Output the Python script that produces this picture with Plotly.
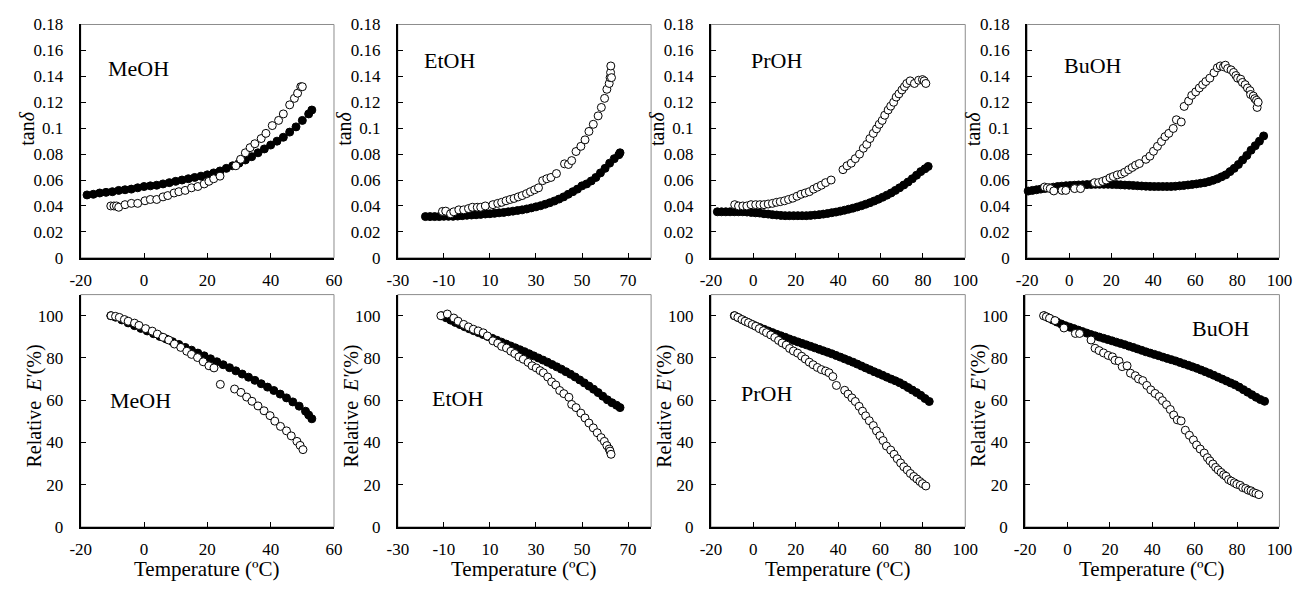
import plotly.graph_objects as go

W, H = 1315, 596
FONT = "Liberation Serif"

# ---------------- MeOH ----------------
meoh_tan_open_x = [-10.5, -9.5, -8.7, -8, -6, -4, -2, 0.3, 2, 4, 6, 7.5, 9.5, 11, 13, 15, 17, 19, 20.5, 22, 24,
                   29, 30.5, 32, 33.5, 35, 37, 38.5, 40.5, 42.5, 44, 46, 47.5, 48.5, 49.5, 50]
meoh_tan_open_y = [0.040, 0.040, 0.040, 0.039, 0.041, 0.042, 0.042, 0.044, 0.045, 0.045, 0.047, 0.048, 0.050,
                   0.051, 0.052, 0.054, 0.055, 0.057, 0.059, 0.061, 0.063, 0.071, 0.076, 0.081, 0.085, 0.088,
                   0.092, 0.096, 0.102, 0.106, 0.111, 0.118, 0.123, 0.127, 0.132, 0.132]
meoh_tan_fill_x = [-18, -16, -14, -12, -10, -8, -6, -4, -2, 0, 2, 4, 6, 8, 10, 12, 14, 16, 18, 20, 22, 24, 26,
                   28, 30, 32, 34, 36, 38, 40, 42, 44, 46, 48, 50, 52, 53]
meoh_tan_fill_y = [0.0485, 0.049, 0.050, 0.0505, 0.051, 0.052, 0.0525, 0.053, 0.054, 0.055, 0.0555, 0.056,
                   0.057, 0.058, 0.059, 0.060, 0.061, 0.062, 0.063, 0.064, 0.0655, 0.067, 0.069, 0.071, 0.073,
                   0.0755, 0.078, 0.081, 0.084, 0.087, 0.090, 0.093, 0.097, 0.101, 0.106, 0.111, 0.114]
meoh_e_open_x = [-10.4, -9, -7.8, -6.2, -5, -3, -1.6, 0.5, 2.6, 4.2, 6, 7.8, 9.6, 11.6, 13.5, 15, 16.9, 18.7,
                 20.5, 22.1, 24.1, 28.6, 30.6, 32.4, 34.1, 36, 37.9, 39.8, 41.3, 43.1, 45, 46.5, 48.3, 49.3, 50.2]
meoh_e_open_y = [100, 99.7, 99.2, 98.2, 97.4, 96.5, 95.4, 93.9, 92.7, 91.3, 89.8, 88.5, 86.6, 85, 83.2, 81.7,
                 80.2, 78.2, 76.3, 75.3, 67.5, 65.3, 63.7, 61.5, 59.5, 57.3, 55, 52.7, 50.1, 47.6, 45.5, 43.1,
                 40.5, 38.6, 36.6]
meoh_e_fill_x = [-10.5, -9, -7, -5, -3, -1, 1, 3, 5, 7, 9, 11, 13, 15, 17, 19, 21, 23, 25, 27, 29, 31, 33, 35,
                 37, 39, 41, 43, 45, 47, 49, 51, 52, 53]
meoh_e_fill_y = [100, 99.3, 98, 96.6, 95.3, 94, 92.8, 91.5, 90.2, 89, 87.7, 86.4, 85, 83.7, 82.3, 81, 79.6,
                 78.2, 76.8, 75.4, 73.9, 72.4, 70.9, 69.4, 67.8, 66.2, 64.6, 62.9, 61.1, 59.2, 57.2, 54.8, 53,
                 51.2]

# ---------------- EtOH ----------------
etoh_tan_open_x = [-10.6, -9.2, -7.1, -5.7, -3.5, -1.4, 0.7, 2.4, 4.5, 6, 8, 11.3, 13.4, 15.1, 17, 18.8, 20.5,
                   22.3, 24, 25.9, 27.6, 29.4, 31.1, 32.9, 34.7, 36.5, 38.9, 42.4, 44.1, 45.5, 47.4, 49.5, 51.3,
                   53, 54.9, 57, 58.4, 59.8, 60.8, 61.8, 62.2, 62.4, 62.5, 62.8]
etoh_tan_open_y = [0.0358, 0.036, 0.034, 0.0355, 0.037, 0.037, 0.038, 0.039, 0.039, 0.039, 0.040, 0.041, 0.042,
                   0.0428, 0.044, 0.045, 0.0458, 0.047, 0.048, 0.0495, 0.051, 0.0525, 0.054, 0.0595, 0.061,
                   0.062, 0.065, 0.0725, 0.072, 0.075, 0.082, 0.086, 0.091, 0.0975, 0.103, 0.1095, 0.116, 0.123,
                   0.130, 0.1345, 0.139, 0.143, 0.148, 0.139]
etoh_tan_fill_x = [-18, -16, -14, -12, -10, -8, -6, -4, -2, 0, 2, 4, 6, 8, 10, 12, 14, 16, 18, 20, 22, 24, 26,
                   28, 30, 32, 34, 36, 38, 40, 42, 44, 46, 48, 50, 52, 54, 56, 58, 60, 62, 64, 66, 66.5]
etoh_tan_fill_y = [0.0318, 0.0318, 0.0318, 0.0318, 0.032, 0.032, 0.032, 0.0322, 0.0325, 0.0328, 0.033, 0.0332,
                   0.0335, 0.0338, 0.034, 0.0343, 0.0347, 0.035, 0.0355, 0.036, 0.0365, 0.037, 0.0377, 0.0385,
                   0.0393, 0.0402, 0.0413, 0.0425, 0.0438, 0.0453, 0.047, 0.049, 0.051, 0.053, 0.0555, 0.057,
                   0.0593, 0.062, 0.0655, 0.069, 0.073, 0.0765, 0.0795, 0.081]
etoh_e_open_x = [-11.3, -8.5, -5.7, -3.8, -1.4, 0.7, 2.8, 4.9, 7.1, 8.9, 11.3, 13.4, 15.1, 17.2, 19.1, 20.8,
                 22.6, 24.5, 26.6, 28.3, 30.1, 31.8, 33.2, 35.1, 36.8, 38.6, 40.3, 42.1, 44.3, 45.5, 47.4, 49.5,
                 51.3, 53, 54.9, 56.6, 58.3, 59.7, 60.8, 61.8, 62.2, 62.6]
etoh_e_open_y = [100, 100.8, 98.9, 97.4, 95.9, 94.7, 93.6, 92.8, 91.9, 90.4, 88.1, 87, 85.5, 84.7, 83.2, 82.1,
                 80.5, 79.4, 77.9, 76.3, 75.3, 74, 73, 71, 68.7, 67.2, 64.6, 63.1, 61.4, 58, 56.5, 53.9, 51.6,
                 49.2, 46.9, 44.6, 42.3, 40.5, 38.5, 36.9, 35.9, 34.4]
etoh_e_fill_x = [-11, -9, -7, -5, -3, -1, 1, 3, 5, 7, 9, 11, 13, 15, 17, 19, 21, 23, 25, 27, 29, 31, 33, 35, 37,
                 39, 41, 43, 45, 47, 49, 51, 53, 55, 57, 59, 61, 63, 65, 66.5]
etoh_e_fill_y = [100, 99, 97.9, 96.8, 95.8, 94.8, 93.8, 92.9, 92, 91.1, 90.2, 89.3, 88.4, 87.5, 86.6, 85.7,
                 84.8, 83.9, 83, 82, 81, 80, 79, 78, 76.9, 75.8, 74.7, 73.5, 72.3, 71, 69.6, 68.2, 66.7, 65.2,
                 63.6, 61.9, 60.2, 58.8, 57.6, 56.5]

# ---------------- PrOH ----------------
proh_tan_open_x = [-8.8, -7, -5, -3.1, -1.1, 1.1, 3.1, 5, 7, 9, 10.9, 12.7, 14.7, 16.6, 18.6, 20.6, 22.5, 24.5,
                   26.4, 28.4, 30.2, 32.1, 34.1, 36.7, 42.3, 44.2, 46.2, 48.1, 50.1, 51.9, 53.5, 55, 56.6, 58.1,
                   59.4, 60.8, 62, 63.6, 64.8, 66.2, 67.4, 68.7, 70.1, 71.3, 72.4, 74, 76, 78, 79.8, 80.6, 81.4]
proh_tan_open_y = [0.041, 0.040, 0.040, 0.040, 0.041, 0.041, 0.041, 0.041, 0.0415, 0.042, 0.0428, 0.0433,
                   0.044, 0.045, 0.046, 0.0475, 0.049, 0.050, 0.051, 0.053, 0.0545, 0.056, 0.058, 0.060, 0.068,
                   0.071, 0.073, 0.0765, 0.080, 0.0845, 0.0875, 0.092, 0.096, 0.0995, 0.103, 0.106, 0.110,
                   0.114, 0.117, 0.120, 0.124, 0.1265, 0.1295, 0.132, 0.1345, 0.1365, 0.1345, 0.137, 0.1375,
                   0.1365, 0.1345]
proh_tan_fill_x = [-17, -15, -13, -11, -9, -7, -5, -3, -1, 1, 3, 5, 7, 9, 11, 13, 15, 17, 19, 21, 23, 25, 27,
                   29, 31, 33, 35, 37, 39, 41, 43, 45, 47, 49, 51, 53, 55, 57, 59, 61, 63, 65, 67, 69, 71, 73,
                   75, 77, 79, 81, 82.5]
proh_tan_fill_y = [0.0355, 0.0355, 0.0355, 0.0355, 0.0355, 0.0355, 0.0355, 0.0353, 0.035, 0.0347, 0.0345,
                   0.034, 0.0337, 0.0333, 0.033, 0.0327, 0.0325, 0.0325, 0.0325, 0.0325, 0.0325, 0.0325, 0.0327,
                   0.033, 0.0333, 0.0337, 0.0342, 0.0348, 0.0353, 0.036, 0.0367, 0.0375, 0.0383, 0.0392, 0.0402,
                   0.0413, 0.0425, 0.0438, 0.0452, 0.0467, 0.0483, 0.050, 0.052, 0.054, 0.0562, 0.0585, 0.061,
                   0.0637, 0.0665, 0.0687, 0.0705]
proh_e_open_x = [-8.8, -7.3, -5.4, -3.9, -2.3, -0.5, 1.1, 2.8, 4.7, 6.2, 8.2, 10.1, 11.9, 13.6, 15.5, 17.1,
                 18.9, 20.9, 22.8, 24.5, 26.4, 28.2, 30.2, 32.1, 34.1, 35.7, 37.5, 39.2, 43.1, 44.7, 46.5, 48.1,
                 49.9, 51.5, 53, 54.7, 56.6, 58.1, 59.7, 61.2, 62.8, 64.8, 66.4, 67.9, 69.5, 71, 72.6, 74.1,
                 75.7, 77.2, 78.6, 79.8, 81.4]
proh_e_open_y = [100, 99.2, 98.2, 97.4, 96.7, 95.8, 95, 93.9, 92.9, 92, 90.9, 89.7, 88.3, 87.1, 86.1, 84.5,
                 83.3, 82.3, 80.8, 79.5, 78, 76.8, 75.5, 74.5, 73.8, 73, 71.2, 67, 64.7, 62.9, 61.1, 59.4, 57.1,
                 54.8, 52.6, 50.3, 48, 45.5, 43.2, 40.9, 38.3, 36.4, 34.4, 32.3, 30.3, 28.5, 27, 25.3, 23.9,
                 22.7, 21.5, 20.5, 19.4]
proh_e_fill_x = [-9, -7, -5, -3, -1, 1, 3, 5, 7, 9, 11, 13, 15, 17, 19, 21, 23, 25, 27, 29, 31, 33, 35, 37, 39,
                 41, 43, 45, 47, 49, 51, 53, 55, 57, 59, 61, 63, 65, 67, 69, 71, 73, 75, 77, 79, 81, 83]
proh_e_fill_y = [100, 99, 98, 97, 96.1, 95.2, 94.4, 93.6, 92.8, 92, 91.2, 90.5, 89.8, 89, 88.3, 87.6, 86.9,
                 86.2, 85.5, 84.8, 84.1, 83.4, 82.7, 82, 81.2, 80.4, 79.6, 78.8, 78, 77.1, 76.2, 75.3, 74.4,
                 73.5, 72.7, 71.8, 70.9, 70, 69.2, 68.3, 67.2, 66, 64.8, 63.6, 62.3, 60.8, 59.4]

# ---------------- BuOH ----------------
buoh_tan_open_x = [-11.7, -10.4, -9, -7.3, -3.4, -1.6, 2.6, 5.4, 12.1, 14, 15.9, 17.6, 19.4, 21, 22.9, 24.9,
                   26.4, 28.3, 30, 31.6, 33.4, 36.5, 38.4, 40.1, 42, 43.9, 45.6, 47.4, 49.5, 51, 53.3, 54.7,
                   56.8, 58.3, 60.2, 61.9, 63.5, 65, 66.9, 68.9, 70.5, 71.9, 73.4, 74.3, 75.4, 77, 78.2, 79.3,
                   80.1, 81.6, 82.4, 83.7, 84.8, 86, 86.3, 87.6, 88.3, 89.1, 89.4, 89.9]
buoh_tan_open_y = [0.0546, 0.054, 0.0534, 0.0516, 0.052, 0.052, 0.0534, 0.0534, 0.058, 0.058, 0.059, 0.060,
                   0.0617, 0.0627, 0.064, 0.0647, 0.066, 0.068, 0.0697, 0.0714, 0.0727, 0.076, 0.0784, 0.0822,
                   0.086, 0.0897, 0.0935, 0.096, 0.0998, 0.1065, 0.1048, 0.1168, 0.121, 0.1253, 0.128, 0.131,
                   0.1336, 0.136, 0.1386, 0.1428, 0.1466, 0.148, 0.1474, 0.1486, 0.146, 0.145, 0.143, 0.1406,
                   0.1386, 0.1378, 0.1353, 0.1336, 0.131, 0.129, 0.126, 0.1248, 0.1228, 0.1215, 0.116, 0.120]
buoh_tan_fill_x = [-19.5, -17.5, -15.5, -13.5, -11.5, -9.5, -7.5, -5.5, -3.5, -1.5, 0.5, 2.5, 4.5, 6.5, 8.5,
                   10.5, 12.5, 14.5, 16.5, 18.5, 20.5, 22.5, 24.5, 26.5, 28.5, 30.5, 32.5, 34.5, 36.5, 38.5,
                   40.5, 42.5, 44.5, 46.5, 48.5, 50.5, 52.5, 54.5, 56.5, 58.5, 60.5, 62.5, 64.5, 66.5, 68.5,
                   70.5, 72.5, 74.5, 76.5, 78.5, 80.5, 82.5, 84.5, 86.5, 88.5, 90.5, 92.5]
buoh_tan_fill_y = [0.0515, 0.052, 0.0525, 0.053, 0.0535, 0.054, 0.0545, 0.055, 0.0553, 0.0556, 0.0558, 0.056,
                   0.0562, 0.0563, 0.0565, 0.0566, 0.0567, 0.0567, 0.0567, 0.0567, 0.0566, 0.0565, 0.0563,
                   0.0561, 0.056, 0.0558, 0.0556, 0.0554, 0.0552, 0.0551, 0.055, 0.055, 0.055, 0.055, 0.055,
                   0.0552, 0.0555, 0.0558, 0.0562, 0.0566, 0.057, 0.0575, 0.058, 0.0588, 0.0598, 0.061, 0.0625,
                   0.064, 0.0665, 0.069, 0.072, 0.0755, 0.079, 0.083, 0.0865, 0.090, 0.094]
buoh_e_open_x = [-11.3, -10, -8.5, -5.9, -1.7, 3.7, 5.7, 11.1, 13, 14.9, 17, 19.2, 21.2, 22.4, 24.3, 25.8,
                 28.1, 29.7, 32, 33.5, 35.5, 37.4, 39.3, 41.3, 43.3, 44.8, 46.7, 48.5, 50.1, 51.8, 53.6, 55.6,
                 57.5, 59.4, 60.9, 62.6, 64.5, 66, 67.2, 68.6, 69.9, 71.1, 72.5, 73.7, 74.8, 76, 77.3, 78.7,
                 79.9, 81.5, 82.7, 84.1, 85.3, 86.6, 87.7, 88.9, 90.3]
buoh_e_open_y = [100, 99.5, 98.8, 97.7, 94.2, 91.6, 91.6, 88.5, 84.6, 83.5, 82.4, 81.2, 80.5, 78.9, 78.5,
                 75.9, 76.3, 72.8, 71.6, 70.1, 69.3, 67, 64.9, 63.2, 61.7, 59.8, 57.9, 55.6, 53, 50.7, 50.2,
                 45.8, 43.4, 41.2, 38.8, 36.9, 35, 32.8, 31.3, 29.8, 28.2, 27, 25.8, 24.7, 24, 22.4, 21.7,
                 20.9, 20.2, 19.7, 18.6, 18.2, 17.4, 17.1, 16.3, 15.9, 15.3]
buoh_e_fill_x = [-11, -9, -7, -5, -3, -1, 1, 3, 5, 7, 9, 11, 13, 15, 17, 19, 21, 23, 25, 27, 29, 31, 33, 35,
                 37, 39, 41, 43, 45, 47, 49, 51, 53, 55, 57, 59, 61, 63, 65, 67, 69, 71, 73, 75, 77, 79, 81,
                 83, 85, 87, 89, 91, 93]
buoh_e_fill_y = [100, 99, 98, 97, 96.1, 95.3, 94.6, 93.9, 93.2, 92.5, 91.8, 91.1, 90.5, 89.9, 89.3, 88.7,
                 88.1, 87.5, 86.9, 86.3, 85.6, 85, 84.3, 83.6, 82.9, 82.3, 81.7, 81.1, 80.4, 79.8, 79.2, 78.6,
                 77.9, 77.2, 76.5, 75.8, 75.1, 74.3, 73.5, 72.7, 71.8, 70.9, 70, 69.1, 68.2, 67.3, 66.2, 65,
                 63.8, 62.6, 61.4, 60.3, 59.5]

# ---------------- labels / ticks ----------------
solvents = ["MeOH", "EtOH", "PrOH", "BuOH"]
tan_ticks = [0, 0.02, 0.04, 0.06, 0.08, 0.1, 0.12, 0.14, 0.16, 0.18]
tan_ticktext = ["0", "0.02", "0.04", "0.06", "0.08", "0.1", "0.12", "0.14", "0.16", "0.18"]
e_ticks = [0, 20, 40, 60, 80, 100]
e_ticktext = ["0", "20", "40", "60", "80", "100"]
x_ticks_a = [-20, 0, 20, 40, 60]
x_ticks_b = [-30, -10, 10, 30, 50, 70]
x_ticks_c = [-20, 0, 20, 40, 60, 80, 100]
x_ticks_list = [x_ticks_a, x_ticks_b, x_ticks_c, x_ticks_c]
x_ranges = [[-20, 60], [-30, 80], [-20, 100], [-20, 100]]
y_title_tan = "tan<i>δ</i>"
y_title_e = "Relative  <i>E'</i>(%)"
x_title = "Temperature (ºC)"

top_series = [
    (meoh_tan_fill_x, meoh_tan_fill_y, meoh_tan_open_x, meoh_tan_open_y),
    (etoh_tan_fill_x, etoh_tan_fill_y, etoh_tan_open_x, etoh_tan_open_y),
    (proh_tan_fill_x, proh_tan_fill_y, proh_tan_open_x, proh_tan_open_y),
    (buoh_tan_fill_x, buoh_tan_fill_y, buoh_tan_open_x, buoh_tan_open_y),
]
bot_series = [
    (meoh_e_fill_x, meoh_e_fill_y, meoh_e_open_x, meoh_e_open_y),
    (etoh_e_fill_x, etoh_e_fill_y, etoh_e_open_x, etoh_e_open_y),
    (proh_e_fill_x, proh_e_fill_y, proh_e_open_x, proh_e_open_y),
    (buoh_e_fill_x, buoh_e_fill_y, buoh_e_open_x, buoh_e_open_y),
]

# ---------------- layout geometry (pixels) ----------------
top_x_px = [(71, 329), (394, 652), (713, 972), (1035, 1292)]
bot_x_px = [(71, 329), (394, 652), (713, 972), (1033, 1292)]
top_y_px = (16, 257)
bot_y_px = (295, 535)
top_label_px = [(130, 61), (447, 53), (780, 53), (1102, 58)]
bot_label_px = [(132, 404), (455, 402), (770, 397), (1232, 330)]


def px(x):
    return x / W


def py(y):
    return 1 - y / H


fig = go.Figure()
layout = dict(
    width=W, height=H, autosize=False,
    margin=dict(l=0, r=0, t=0, b=0, pad=0),
    paper_bgcolor="white", plot_bgcolor="white",
    font=dict(family=FONT, color="black", size=17),
    showlegend=False,
)
annotations = []
shapes = []

marker_fill = dict(symbol="circle", size=8, color="black", line=dict(color="black", width=1))
marker_open = dict(symbol="circle", size=8, color="white", line=dict(color="black", width=1))

for row in range(2):
    for col in range(4):
        idx = row * 4 + col + 1
        xa = "x" if idx == 1 else f"x{idx}"
        ya = "y" if idx == 1 else f"y{idx}"
        xkey = "xaxis" if idx == 1 else f"xaxis{idx}"
        ykey = "yaxis" if idx == 1 else f"yaxis{idx}"
        xpx = (top_x_px if row == 0 else bot_x_px)[col]
        ypx = top_y_px if row == 0 else bot_y_px
        fx, fy, ox, oy = (top_series if row == 0 else bot_series)[col]
        fig.add_trace(go.Scatter(x=fx, y=fy, mode="markers", marker=marker_fill, xaxis=xa, yaxis=ya,
                                 cliponaxis=False))
        fig.add_trace(go.Scatter(x=ox, y=oy, mode="markers", marker=marker_open, xaxis=xa, yaxis=ya,
                                 cliponaxis=False))
        xt = x_ticks_list[col]
        layout[xkey] = dict(
            domain=[px(xpx[0]), px(xpx[1])], anchor=ya, range=x_ranges[col],
            tickmode="array", tickvals=xt, ticktext=[str(v) for v in xt],
            ticks="inside", ticklen=5, tickwidth=1, tickcolor="black",
            showline=True, linecolor="black", linewidth=2, showgrid=False, zeroline=False,
            tickfont=dict(family=FONT, size=17, color="black"), ticklabelstandoff=6,
            fixedrange=True,
        )
        if row == 0:
            yr, yt, ytt = [0, 0.18], tan_ticks, tan_ticktext
        else:
            yr, yt, ytt = [0, 110], e_ticks, e_ticktext
        layout[ykey] = dict(
            domain=[py(ypx[1]), py(ypx[0])], anchor=xa, range=yr,
            tickmode="array", tickvals=yt, ticktext=ytt,
            ticks="inside", ticklen=5, tickwidth=1, tickcolor="black",
            showline=True, linecolor="black", linewidth=2, showgrid=False, zeroline=False,
            tickfont=dict(family=FONT, size=17, color="black"), ticklabelstandoff=12,
            fixedrange=True,
        )
        # gray frame (top / right)
        shapes.append(dict(type="rect", xref=f"{xa} domain", yref=f"{ya} domain", x0=0, x1=1, y0=0, y1=1,
                           line=dict(color="#8c8c8c", width=1), layer="below"))
        # panel label
        lx, ly = (top_label_px if row == 0 else bot_label_px)[col]
        annotations.append(dict(text=solvents[col], x=px(lx), y=py(ly), xref="paper", yref="paper",
                                showarrow=False, xanchor="center", yanchor="middle",
                                font=dict(family=FONT, size=22, color="black")))
        # y title
        if row == 0:
            tx, ty, ttext = xpx[0] - 55, 124, y_title_tan
        else:
            tx, ty, ttext = xpx[0] - 47, 410, y_title_e
        annotations.append(dict(text=ttext, x=px(tx), y=py(ty), xref="paper", yref="paper",
                                showarrow=False, xanchor="center", yanchor="middle", textangle=-90,
                                font=dict(family=FONT, size=20, color="black")))
        if row == 1:
            annotations.append(dict(text=x_title, x=px((xpx[0] + xpx[1]) / 2), y=py(578),
                                    xref="paper", yref="paper", showarrow=False,
                                    xanchor="center", yanchor="middle",
                                    font=dict(family=FONT, size=21, color="black")))

layout["annotations"] = annotations
layout["shapes"] = shapes
fig.update_layout(**layout)
fig.write_html("out.html", config={"displayModeBar": False},
               post_script="document.body.style.margin='0';document.body.style.overflow='hidden';")
